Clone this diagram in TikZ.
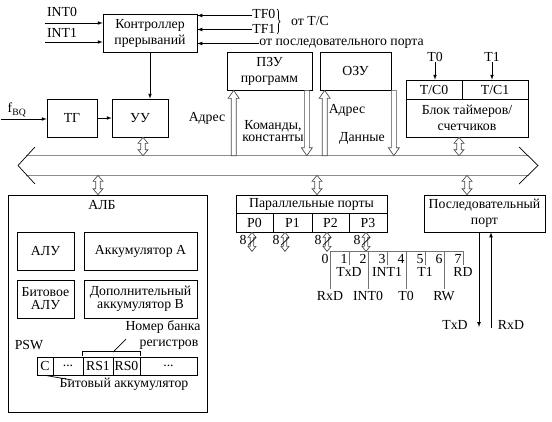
\documentclass[tikz,border=0pt]{standalone}
\usepackage{fontspec}
\setmainfont{Liberation Serif}
\usetikzlibrary{calc,decorations.pathreplacing}

\tikzset{
  blk/.style={draw, rectangle, inner sep=0pt, align=center},
  lbl/.style={inner sep=0pt, align=center},
  busline/.style={draw=black!45, line width=0.9pt},
  bitline/.style={draw=black!55, line width=0.8pt},
  hollow/.style={draw=black!70, fill=white, to path={
    let \p1=(\tikztostart), \p2=(\tikztotarget), \n1={sign(\y2-\y1)} in
    (\x1-2.5pt,\y1) -- (\x1-2.5pt,\y2-\n1*8pt) -- (\x1-5.5pt,\y2-\n1*8pt) -- (\x2,\y2)
    -- (\x1+5.5pt,\y2-\n1*8pt) -- (\x1+2.5pt,\y2-\n1*8pt) -- (\x1+2.5pt,\y1) -- cycle}},
  dbl/.style n args={3}{draw=black!70, fill=white, to path={
    let \p1=(\tikztostart), \p2=(\tikztotarget), \n1={sign(\y2-\y1)} in
    (\x1,\y1) -- (\x1+#2,\y1+\n1*#3) -- (\x1+#1,\y1+\n1*#3) -- (\x1+#1,\y2-\n1*#3)
    -- (\x1+#2,\y2-\n1*#3) -- (\x2,\y2) -- (\x1-#2,\y2-\n1*#3) -- (\x1-#1,\y2-\n1*#3)
    -- (\x1-#1,\y1+\n1*#3) -- (\x1-#2,\y1+\n1*#3) -- cycle}},
  busdbl/.style={dbl={2.3pt}{5pt}{6pt}},
  portdbl/.style={dbl={1.8pt}{4pt}{5pt}},
}

\begin{document}
\begin{tikzpicture}[x=1pt,y=-1pt,every path/.style={>=latex,line width=0.7pt},
                    every node/.style={font=\fontsize{13.8}{16}\selectfont}]
  \useasboundingbox (0,0) rectangle (552,421);

  % control part
  \node[blk,minimum width=94pt,minimum height=38pt] (ctrl) at (150,33) {Контроллер\\прерываний};
  \node[blk,minimum width=50pt,minimum height=38pt] (tg) at (72,118) {ТГ};
  \node[blk,minimum width=56pt,minimum height=38pt] (uu) at (140,118) {УУ};
  \node[lbl] (int0) at (62,12) {INT0};
  \node[lbl] (int1) at (62,33) {INT1};
  \coordinate (in0) at (45,23);
  \coordinate (in1) at (45,42);
  \draw[->] (in0) -- (in0 -| ctrl.west);
  \draw[->] (in1) -- (in1 -| ctrl.west);
  \node[lbl,anchor=west,align=left,font=\fontsize{13.8}{14.5}\selectfont] (tf) at (252,21.5) {TF0\\TF1};
  \coordinate (tf0) at ($(tf.west)+(0,-6)$);
  \coordinate (tf1) at ($(tf.west)+(0,8)$);
  \node[lbl,anchor=west] (sp) at (259,43.5) {от последовательного порта};
  \draw[<-] (ctrl.east |- tf0) -- (tf0);
  \draw[<-] (ctrl.east |- tf1) -- (tf1);
  \draw[<-] (ctrl.east |- sp.west) -- (sp.west);
  \draw[decorate,decoration={brace,amplitude=3pt}] (277,9) -- (277,34);
  \node[lbl] (tc) at (310,21) {от T/C};
  \draw[->] (ctrl.south) -- (ctrl.south |- uu.north);
  \node[lbl] (fbq) at (17,110) {f\textsubscript{BQ}};
  \coordinate (fin) at (1,119);
  \draw[->] (fin) -- (fin -| tg.west);
  \draw[->] (tg) -- (uu);

  % memory
  \node[blk,minimum width=85pt,minimum height=38pt] (rom) at (269.5,71) {ПЗУ\\программ};
  \node[blk,minimum width=71pt,minimum height=38pt] (ram) at (355.5,71) {ОЗУ};
  \node[lbl] (adr1) at (207,118) {Адрес};
  \node[lbl,font=\fontsize{13.8}{12.5}\selectfont] (cmd) at (273,131) {Команды,\\константы};
  \node[lbl] (adr2) at (347,110) {Адрес};
  \node[lbl] (dat) at (362,138) {Данные};

  % timers
  \node[blk,minimum width=56pt,minimum height=19pt] (tc0) at (434,89.5) {T/C0};
  \node[blk,minimum width=66pt,minimum height=19pt] (tc1) at (495,89.5) {T/C1};
  \node[blk,minimum width=122pt,minimum height=38pt] (tmr) at (467,118) {Блок таймеров/\\счетчиков};
  \node[lbl] (t0) at (435,57) {T0};
  \node[lbl] (t1) at (492,57) {T1};
  \draw[->] (t0.south) -- (t0.south |- tc0.north);
  \draw[->] (t1.south) -- (t1.south |- tc1.north);

  % bus
  \node[minimum width=502pt,minimum height=19pt,inner sep=0pt] (bus) at (277.5,165.5) {};
  \draw[busline] (bus.north west) -- (bus.north east);
  \draw[busline] (bus.south west) -- (bus.south east);
  \draw (35,147) -- (18,165.5) -- (35,184);
  \draw (519,147) -- (538,165.5) -- (519,184);

  % ALB
  \node[blk,minimum width=199pt,minimum height=217pt] (alb) at (107.5,303.5) {};
  \node[lbl] (albt) at (102,205) {АЛБ};
  \node[blk,minimum width=57pt,minimum height=38pt] (alu) at (45.5,251) {АЛУ};
  \node[blk,minimum width=113pt,minimum height=38pt] (acca) at (140.5,251) {Аккумулятор А};
  \node[blk,minimum width=57pt,minimum height=38pt,font=\fontsize{13.8}{13}\selectfont] (balu) at (45.5,299) {Битовое\\АЛУ};
  \node[blk,minimum width=113pt,minimum height=38pt,font=\fontsize{13.8}{13}\selectfont] (accb) at (140.5,299) {Дополнительный\\аккумулятор В};
  \node[lbl,font=\fontsize{13.8}{16}\selectfont] (bank) at (163,335) {Номер банка\\\hspace*{12pt}регистров};
  \node[lbl] (psw) at (29,345) {PSW};
  \node[blk,minimum width=16pt,minimum height=18pt] (c) at (45,366) {C};
  \node[blk,minimum width=30pt,minimum height=18pt] (d1) at (68,366) {...};
  \node[blk,minimum width=30pt,minimum height=18pt] (rs1) at (98,366) {RS1};
  \node[blk,minimum width=27pt,minimum height=18pt] (rs0) at (126.5,366) {RS0};
  \node[blk,minimum width=57pt,minimum height=18pt] (d2) at (168.5,366) {...};
  \draw (rs1.north west) ++(0,-1) -- ++(0,-4) -- ($(rs0.north east)+(0,-5)$) -- ++(0,4);
  \draw (113,352) -- (126,339);
  \node[lbl] (bacc) at (124,384) {Битовый аккумулятор};
  \draw (c.south) -- (72,380);

  % parallel ports
  \node[blk,minimum width=151pt,minimum height=18pt] (ports) at (311.5,204) {Параллельные порты};
  \node[blk,minimum width=37pt,minimum height=19pt] (p0) at (254.5,222.5) {P0};
  \node[blk,minimum width=39pt,minimum height=19pt] (p1) at (292.5,222.5) {P1};
  \node[blk,minimum width=37pt,minimum height=19pt] (p2) at (330.5,222.5) {P2};
  \node[blk,minimum width=38pt,minimum height=19pt] (p3) at (368,222.5) {P3};
  \foreach \p/\dx in {p0/-2.5,p1/-7.5,p2/-3.5,p3/-2} {
    \draw[portdbl] ($(\p.south)+(\dx,0)$) to ($(\p.south)+(\dx,19)$);
    \draw ($(\p.south)+(\dx-4,13)$) -- ($(\p.south)+(\dx+4,5)$);
    \node[lbl] at ($(\p.south)+(\dx-9,8)$) {8};
  }
  \draw[bitline] (330,251) -- (463,251);
  \foreach \x/\e/\b/\t in {330/289/0/RxD,349/265/1/TxD,368/289/2/INT0,387/265/3/INT1,
                           406/289/4/T0,425/265/5/T1,444/289/6/RW,463/265/7/RD} {
    \node[lbl] at (\x-5,259) {\b};
    \draw[bitline] (\x,251) -- (\x,\e) node[below,inner sep=2pt] {\t};
  }

  % serial port
  \node[blk,minimum width=121pt,minimum height=37pt] (ser) at (484.5,213.5) {Последовательный\\порт};
  \coordinate (txd) at (479,327);
  \coordinate (rxd) at (491,328);
  \draw[->] (txd |- ser.south) -- (txd);
  \draw[->] (rxd) -- (rxd |- ser.south);
  \node[lbl] (txdl) at (455,325) {TxD};
  \node[lbl] (rxdl) at (511,325) {RxD};

  % connections to the bus
  \coordinate (romA) at ($(rom.south west)+(7,0)$);
  \coordinate (romD) at ($(rom.south east)+(-5.5,0)$);
  \coordinate (ramA) at ($(ram.south west)+(5,0)$);
  \coordinate (ramD) at ($(ram.south east)+(2.5,0)$);
  \draw[hollow] (romA |- bus.north) to (romA);
  \draw[hollow] (romD) to (romD |- bus.north);
  \draw[hollow] (ramA |- bus.north) to (ramA);
  \draw[hollow] (ramD) to (ramD |- bus.north);
  \coordinate (uuB) at ($(uu.south)+(3,0)$);
  \coordinate (tmrB) at ($(tmr.south)+(-8,0)$);
  \coordinate (albB) at ($(alb.north)+(-9.5,0)$);
  \coordinate (portsB) at ($(ports.north)+(5.5,0)$);
  \coordinate (serB) at ($(ser.north)+(-17.5,0)$);
  \draw[busdbl] (uuB) to (uuB |- bus.north);
  \draw[busdbl] (tmrB) to (tmrB |- bus.north);
  \draw[busdbl] (bus.south -| albB) to (albB);
  \draw[busdbl] (bus.south -| portsB) to (portsB);
  \draw[busdbl] (bus.south -| serB) to (serB);
\end{tikzpicture}
\end{document}
